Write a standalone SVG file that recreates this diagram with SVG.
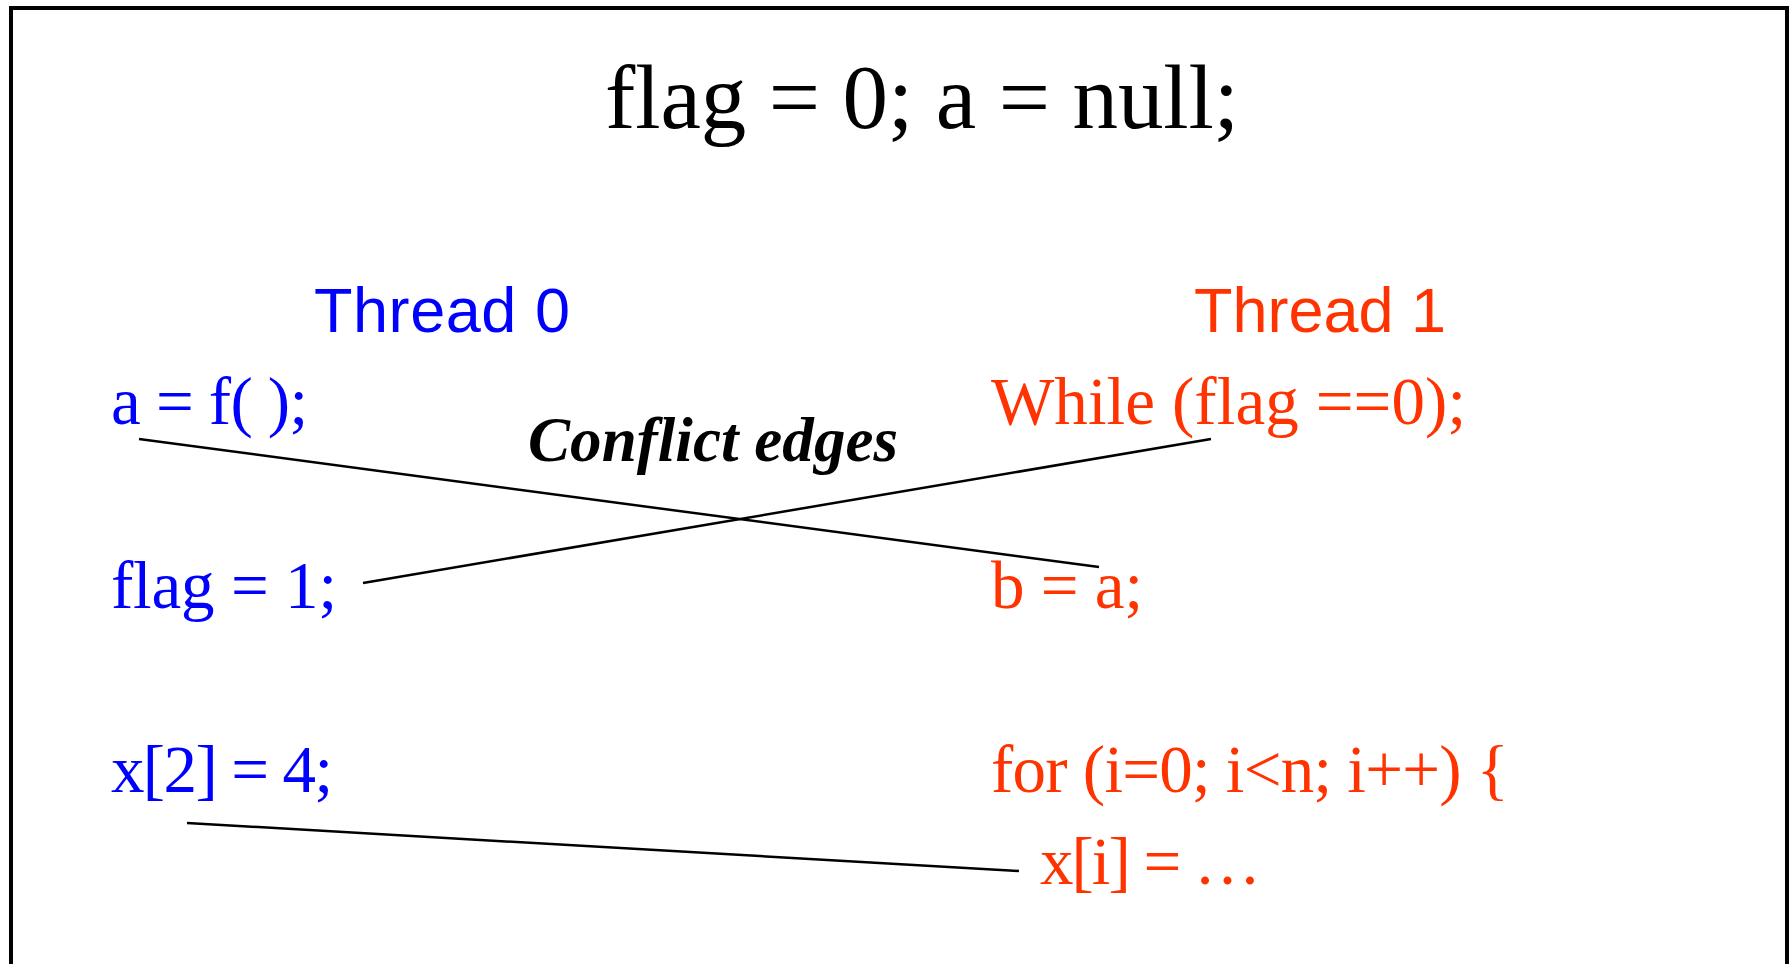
<svg xmlns="http://www.w3.org/2000/svg" width="1791" height="964" viewBox="0 0 1791 964">
<style>
.serif{font-family:"Liberation Serif","Times New Roman",serif;font-size:67px}
.sans{font-family:"Liberation Sans",Arial,sans-serif;font-size:63px}
.t0{fill:#0000ff}
.t1{fill:#ff3300}
.edge{stroke:#000;stroke-width:2.5;fill:none}
</style>
<rect x="0" y="0" width="1791" height="964" fill="#ffffff"/>
<rect id="frame" x="11" y="8" width="1776" height="970" fill="none" stroke="#000" stroke-width="4"/>
<g id="title"><text class="serif" x="605" y="128" style="font-size:91px" fill="#000" textLength="634">flag = 0; a = null;</text></g>
<g id="thread0-label"><text class="sans t0" x="314" y="332" textLength="256">Thread 0</text></g>
<g id="thread1-label"><text class="sans t1" x="1194" y="332">Thread 1</text></g>
<g id="t0-s1"><text class="serif t0" x="111" y="424" textLength="197">a = f( );</text></g>
<g id="t0-s2"><text class="serif t0" x="111" y="608" textLength="226">flag = 1;</text></g>
<g id="t0-s3"><text class="serif t0" x="111" y="792" textLength="222">x[2] = 4;</text></g>
<g id="t1-s1"><text class="serif t1" x="991" y="424" textLength="475">While (flag ==0);</text></g>
<g id="t1-s2"><text class="serif t1" x="991" y="608" textLength="152">b = a;</text></g>
<g id="t1-s3"><text class="serif t1" x="991" y="792" textLength="518">for (i=0; i&lt;n; i++) {</text></g>
<g id="t1-s4"><text class="serif t1" x="1040" y="884" textLength="221">x[i] = …</text></g>
<g id="conflict-label"><text x="528" y="461" style="font-family:'Liberation Serif','Times New Roman',serif;font-size:63px;font-weight:bold;font-style:italic" fill="#000" textLength="370">Conflict edges</text></g>
<g id="connectors">
<line class="edge" x1="139" y1="439" x2="1099" y2="567"/>
<line class="edge" x1="363" y1="583" x2="1211" y2="439"/>
<line class="edge" x1="187" y1="823" x2="1019" y2="871"/>
</g>
</svg>
